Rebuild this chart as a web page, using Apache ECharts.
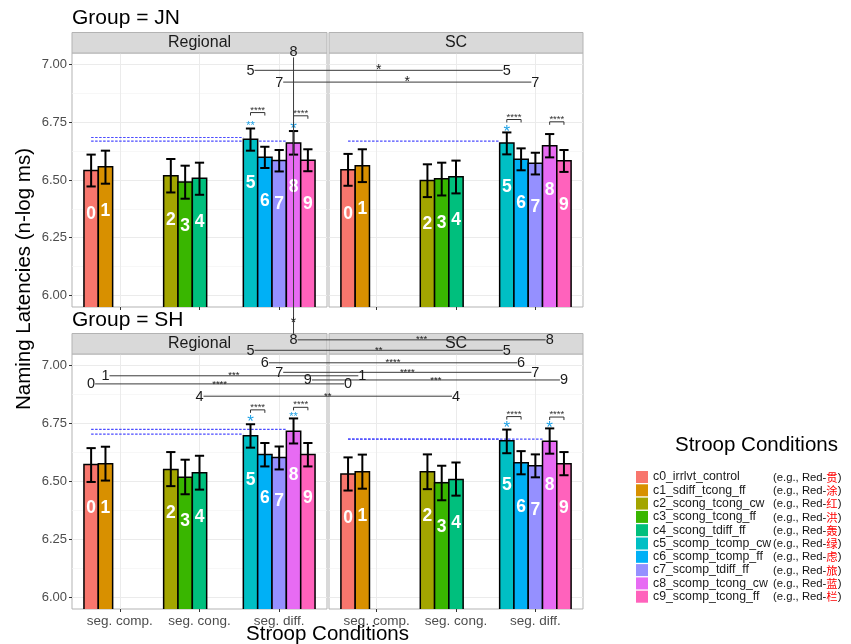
<!DOCTYPE html>
<html><head><meta charset="utf-8">
<script src="https://cdn.jsdelivr.net/npm/echarts@6/dist/echarts.min.js"></script>
<style>html,body{margin:0;padding:0;background:#fff}#c{width:851px;height:644px}</style>
</head><body><div id="c"></div>
<script>
const FONT = '"Liberation Sans", Arial, Helvetica, sans-serif';
const groups = ['JN', 'SH'];
const panels = ['Regional', 'SC'];
const categories = ['seg. comp.', 'seg. cong.', 'seg. diff.'];
const conditions = ['c0_irrlvt_control','c1_sdiff_tcong_ff','c2_scong_tcong_cw','c3_scong_tcong_ff','c4_scong_tdiff_ff','c5_scomp_tcomp_cw','c6_scomp_tcomp_ff','c7_scomp_tdiff_ff','c8_scomp_tcong_cw','c9_scomp_tcong_ff'];
const examples = ['贯','涂','红','洪','轰','绿','虑','旅','蓝','栏'];
const colors = ['#F8766D','#D89000','#A3A500','#39B600','#00BF7D','#00BFC4','#00B0F6','#9590FF','#E76BF3','#FF62BC'];
const barCategory = [0,0,1,1,1,2,2,2,2,2];
const barSlot = [0,1,0,1,2,0,1,2,3,4];
const yTicks = [6.00, 6.25, 6.50, 6.75, 7.00];
const yMinorTicks = [6.125, 6.375, 6.625, 6.875];
const xTicks = [1, 2, 3];

// means and error-bar bounds
const meanJNRegional = [6.541, 6.557, 6.518, 6.491, 6.508, 6.677, 6.598, 6.584, 6.660, 6.585];
const lowJNRegional  = [6.472, 6.484, 6.446, 6.419, 6.436, 6.627, 6.552, 6.537, 6.610, 6.538];
const highJNRegional = [6.610, 6.627, 6.591, 6.562, 6.575, 6.723, 6.644, 6.630, 6.712, 6.633];
const meanJNSC = [6.544, 6.562, 6.498, 6.505, 6.514, 6.660, 6.590, 6.572, 6.648, 6.583];
const lowJNSC  = [6.475, 6.491, 6.426, 6.433, 6.442, 6.611, 6.542, 6.524, 6.598, 6.535];
const highJNSC = [6.613, 6.633, 6.568, 6.575, 6.584, 6.706, 6.637, 6.618, 6.699, 6.630];
const meanSHRegional = [6.573, 6.577, 6.552, 6.518, 6.538, 6.697, 6.616, 6.604, 6.717, 6.616];
const lowSHRegional  = [6.498, 6.504, 6.480, 6.445, 6.465, 6.646, 6.565, 6.552, 6.664, 6.565];
const highSHRegional = [6.644, 6.650, 6.627, 6.594, 6.611, 6.747, 6.666, 6.651, 6.772, 6.666];
const meanSHSC = [6.532, 6.542, 6.542, 6.495, 6.509, 6.676, 6.581, 6.568, 6.674, 6.577];
const lowSHSC  = [6.461, 6.469, 6.467, 6.419, 6.439, 6.622, 6.531, 6.518, 6.620, 6.527];
const highSHSC = [6.604, 6.616, 6.617, 6.568, 6.582, 6.724, 6.631, 6.617, 6.729, 6.627];

// blue stars above bars: [bar, y, label]
const starsJNRegional = [[5, 6.746, '**'], [8, 6.739, '*']];
const starsJNSC = [[5, 6.727, '*']];
const starsSHRegional = [[5, 6.775, '*'], [8, 6.790, '**']];
const starsSHSC = [[5, 6.749, '*'], [8, 6.749, '*']];
// within-panel brackets: [barA, barB, y, label]
const bracketsJNRegional = [[5, 6, 6.792, '****'], [8, 9, 6.778, '****']];
const bracketsJNSC = [[5, 6, 6.762, '****'], [8, 9, 6.752, '****']];
const bracketsSHRegional = [[5, 6, 6.809, '****'], [8, 9, 6.820, '****']];
const bracketsSHSC = [[5, 6, 6.780, '****'], [8, 9, 6.778, '****']];
// dashed reference lines: [fromBar, toBar, y]
const dashedJNRegional = [[0, 5, 6.684], [0, 8, 6.668]];
const dashedJNSC = [[0, 5, 6.668]];
const dashedSHRegional = [[0, 8, 6.725], [0, 5, 6.704]];
const dashedSHSC = [[0, 8, 6.683], [0, 5, 6.683]];
// Regional vs SC comparisons: [bar, y, label]
const crossJN = [[5, 6.975, '*'], [7, 6.924, '*']];
const crossSH = [[8, 7.111, '***'], [5, 7.066, '**'], [6, 7.012, '****'], [7, 6.971, '****'], [1, 6.956, '***'], [9, 6.938, '***'], [0, 6.921, '****'], [4, 6.868, '**']];
// JN vs SH comparison (Regional): [bar, yJN, ySH, yStar(SH scale), label]
const crossGroup = [[8, 7.057, 7.111, 7.202, '*']];

const Y_MIN = 5.95, Y_MAX = 7.05, X_MIN = 0.4, X_MAX = 3.6;
const BAR_W = 0.18, CAP_HALF = 0.058, LABEL_DROP = 0.19;
const xOf = i => barCategory[i] + 1 + (barSlot[i] - 2) * BAR_W;

const layout = [
  {left: 72, top: 53, width: 255, height: 254},
  {left: 329, top: 53, width: 254, height: 254},
  {left: 72, top: 354, width: 255, height: 255},
  {left: 329, top: 354, width: 254, height: 255}
];
const panelSpecs = [
  {g: 0, p: 0, mean: meanJNRegional, lo: lowJNRegional, hi: highJNRegional, stars: starsJNRegional, brackets: bracketsJNRegional, dashed: dashedJNRegional},
  {g: 0, p: 1, mean: meanJNSC, lo: lowJNSC, hi: highJNSC, stars: starsJNSC, brackets: bracketsJNSC, dashed: dashedJNSC},
  {g: 1, p: 0, mean: meanSHRegional, lo: lowSHRegional, hi: highSHRegional, stars: starsSHRegional, brackets: bracketsSHRegional, dashed: dashedSHRegional},
  {g: 1, p: 1, mean: meanSHSC, lo: lowSHSC, hi: highSHSC, stars: starsSHSC, brackets: bracketsSHSC, dashed: dashedSHSC}
];

const chart = echarts.init(document.getElementById('c'), null, {renderer: 'canvas'});
const grids = [], xAxes = [], yAxes = [], yMinorAxes = [], series = [];

panelSpecs.forEach((P, k) => {
  const L = layout[k];
  const isLeft = P.p === 0, isBottom = P.g === 1;
  grids.push({left: L.left, top: L.top, width: L.width, height: L.height, show: true, borderColor: '#B3B3B3', borderWidth: 1, backgroundColor: '#fff'});
  xAxes.push({gridIndex: k, type: 'value', min: X_MIN, max: X_MAX,
    axisLine: {show: false},
    axisTick: {show: true, length: 3, customValues: xTicks, lineStyle: {color: '#333'}},
    axisLabel: {show: isBottom, customValues: xTicks, formatter: v => categories[Math.round(v) - 1], fontFamily: FONT, fontSize: 13.5, color: '#4D4D4D', margin: 5},
    splitLine: {show: true, customValues: xTicks, lineStyle: {color: '#EBEBEB', width: 1}}
  });
  yAxes.push({gridIndex: k, type: 'value', min: Y_MIN, max: Y_MAX, position: 'left',
    axisLine: {show: false},
    axisTick: {show: isLeft, length: 3, customValues: yTicks, lineStyle: {color: '#333'}},
    axisLabel: {show: isLeft, customValues: yTicks, formatter: v => v.toFixed(2), fontFamily: FONT, fontSize: 13, color: '#4D4D4D', margin: 5},
    splitLine: {show: true, customValues: yTicks, lineStyle: {color: '#EBEBEB', width: 1}}
  });
  yMinorAxes.push({gridIndex: k, type: 'value', min: Y_MIN, max: Y_MAX, position: 'left',
    axisLine: {show: false},
    axisTick: {show: false, customValues: yMinorTicks},
    axisLabel: {show: false, customValues: yMinorTicks},
    splitLine: {show: true, customValues: yMinorTicks, lineStyle: {color: '#F4F4F4', width: 0.7}}
  });

  // dashed reference lines
  series.push({type: 'custom', xAxisIndex: k, yAxisIndex: k, z: 2, silent: true, encode: {x: [0, 1], y: 2},
    data: P.dashed.map(d => [xOf(d[0]), xOf(d[1]) - BAR_W / 2, d[2]]),
    renderItem: (params, api) => {
      const a = api.coord([api.value(0), api.value(2)]), b = api.coord([api.value(1), api.value(2)]);
      return {type: 'line', shape: {x1: a[0], y1: a[1], x2: b[0], y2: b[1]}, style: {stroke: '#4a4aff', lineWidth: 1.2, lineDash: [2.5, 1.5]}};
    }
  });
  // bars + error bars + labels
  series.push({type: 'custom', xAxisIndex: k, yAxisIndex: k, z: 3, silent: true, clip: true, encode: {x: 0, y: 1},
    data: P.mean.map((m, i) => [xOf(i), m, P.lo[i], P.hi[i]]),
    renderItem: (params, api) => {
      const i = params.dataIndex;
      const x = api.value(0), m = api.value(1), lo = api.value(2), hi = api.value(3);
      const tl = api.coord([x - BAR_W / 2, m]);
      const br = api.coord([x + BAR_W / 2, Y_MIN - 0.05]);
      const eT = api.coord([x, hi]), eB = api.coord([x, lo]);
      const ch = api.size([CAP_HALF, 0])[0];
      const lab = api.coord([x, m - LABEL_DROP]);
      return {type: 'group', children: [
        {type: 'rect', shape: {x: tl[0], y: tl[1], width: br[0] - tl[0], height: br[1] - tl[1]}, style: {fill: colors[i], stroke: '#000', lineWidth: 1.5}},
        {type: 'line', shape: {x1: eT[0], y1: eT[1], x2: eB[0], y2: eB[1]}, style: {stroke: '#000', lineWidth: 2}},
        {type: 'line', shape: {x1: eT[0] - ch, y1: eT[1], x2: eT[0] + ch, y2: eT[1]}, style: {stroke: '#000', lineWidth: 2}},
        {type: 'line', shape: {x1: eB[0] - ch, y1: eB[1], x2: eB[0] + ch, y2: eB[1]}, style: {stroke: '#000', lineWidth: 2}},
        {type: 'text', x: lab[0], y: lab[1], style: {text: String(i), fill: '#fff', fontSize: 17.5, fontWeight: 'bold', fontFamily: FONT, align: 'center', verticalAlign: 'middle'}}
      ]};
    }
  });
  // brackets
  series.push({type: 'custom', xAxisIndex: k, yAxisIndex: k, z: 4, silent: true, encode: {x: [0, 1], y: 2},
    data: P.brackets.map(d => [xOf(d[0]), xOf(d[1]), d[2]]),
    renderItem: (params, api) => {
      const a = api.coord([api.value(0), api.value(2)]), b = api.coord([api.value(1), api.value(2)]);
      const t = P.brackets[params.dataIndex][3];
      return {type: 'group', children: [
        {type: 'polyline', shape: {points: [[a[0], a[1] + 3], [a[0], a[1]], [b[0], b[1]], [b[0], b[1] + 3]]}, style: {stroke: '#333', lineWidth: 1, fill: null}},
        {type: 'text', x: (a[0] + b[0]) / 2, y: a[1] - 2.5, style: {text: t, fill: '#333', fontSize: 9.5, fontFamily: FONT, align: 'center', verticalAlign: 'middle'}}
      ]};
    }
  });
  // blue stars
  series.push({type: 'custom', xAxisIndex: k, yAxisIndex: k, z: 4, silent: true, encode: {x: 0, y: 1},
    data: P.stars.map(d => [xOf(d[0]), d[1]]),
    renderItem: (params, api) => {
      const p = api.coord([api.value(0), api.value(1)]);
      const t = P.stars[params.dataIndex][2];
      const fs = t.length === 1 ? 17 : 11;
      return {type: 'text', x: p[0], y: p[1] + 0.28 * fs, style: {text: t, fill: '#1FA2E6', fontSize: fs, fontFamily: FONT, align: 'center', verticalAlign: 'middle'}};
    }
  });
});

// legend-only series
conditions.forEach((name, i) => {
  series.push({type: 'custom', name: name, xAxisIndex: 0, yAxisIndex: 0, data: [], itemStyle: {color: colors[i]}, renderItem: () => null});
});

chart.setOption({
  animation: false,
  grid: grids,
  xAxis: xAxes,
  yAxis: yAxes.concat(yMinorAxes),
  series: series,
  title: [{text: 'Stroop Conditions', left: 670, top: 430, textStyle: {fontFamily: FONT, fontSize: 20.5, fontWeight: 'normal', color: '#000'}}],
  legend: {
    orient: 'vertical', left: 631, top: 466, itemWidth: 12, itemHeight: 12, itemGap: 1.3, icon: 'rect',
    selectedMode: false, data: conditions,
    formatter: name => { const i = conditions.indexOf(name); return '{n|' + name + '}{e|(e.g., Red-}{r|' + examples[i] + '}{e|)}'; },
    textStyle: {fontFamily: FONT, fontSize: 12.3, color: '#1a1a1a', lineHeight: 12,
      rich: {
        n: {width: 120, fontSize: 12.3, fontFamily: FONT, color: '#1a1a1a', lineHeight: 12, verticalAlign: 'bottom'},
        e: {fontSize: 11.3, fontFamily: FONT, color: '#111', lineHeight: 12, verticalAlign: 'bottom'},
        r: {fontSize: 11.3, fontFamily: '"Noto Sans CJK SC", sans-serif', color: '#FF0000', lineHeight: 12, verticalAlign: 'bottom'}
      }}
  }
});

// ---- overlay graphics (strips, titles, cross-panel comparisons) ----
const G = [];
layout.forEach((L, k) => {
  G.push({type: 'rect', z: 50, shape: {x: L.left, y: L.top - 20.5, width: L.width, height: 20.5}, style: {fill: '#D9D9D9', stroke: '#B3B3B3', lineWidth: 1}});
  G.push({type: 'text', z: 51, x: L.left + L.width / 2, y: L.top - 10, style: {text: panels[k % 2], fill: '#1A1A1A', fontSize: 16, fontFamily: FONT, align: 'center', verticalAlign: 'middle'}});
});
G.push({type: 'text', z: 51, x: 72, y: 18, style: {text: 'Group = ' + groups[0], fill: '#000', fontSize: 21, fontFamily: FONT, align: 'left', verticalAlign: 'middle'}});
G.push({type: 'text', z: 51, x: 72, y: 320, style: {text: 'Group = ' + groups[1], fill: '#000', fontSize: 21, fontFamily: FONT, align: 'left', verticalAlign: 'middle'}});
G.push({type: 'text', z: 51, x: 24, y: 279, rotation: Math.PI / 2, style: {text: 'Naming Latencies (n-log ms)', fill: '#000', fontSize: 20.5, fontFamily: FONT, align: 'center', verticalAlign: 'middle'}});
G.push({type: 'text', z: 51, x: 327.5, y: 624, style: {text: 'Stroop Conditions', fill: '#000', fontSize: 20.5, fontFamily: FONT, align: 'center', verticalAlign: 'top'}});

const px = (k, x, y) => chart.convertToPixel({xAxisIndex: k, yAxisIndex: k}, [x, y]);
const lineStyle = {stroke: '#3a3a3a', lineWidth: 1};
const sigSize = t => t.length === 1 ? 14 : 9.5;
function addCross(list, g) {
  list.forEach(([bar, y, sig]) => {
    const a = px(2 * g, xOf(bar), y), b = px(2 * g + 1, xOf(bar), y);
    G.push({type: 'line', z: 60, shape: {x1: a[0] + 4, y1: a[1], x2: b[0] - 4, y2: b[1]}, style: lineStyle});
    [a, b].forEach(p => G.push({type: 'text', z: 61, x: p[0], y: p[1] + 0.5, style: {text: String(bar), fill: '#1a1a1a', fontSize: 14.5, fontFamily: FONT, align: 'center', verticalAlign: 'middle'}}));
    G.push({type: 'text', z: 61, x: (a[0] + b[0]) / 2, y: a[1], style: {text: sig, fill: '#1a1a1a', fontSize: sigSize(sig), fontFamily: FONT, align: 'center', verticalAlign: 'middle'}});
  });
}
addCross(crossJN, 0);
addCross(crossSH, 1);
crossGroup.forEach(([bar, yA, yB, yS, sig]) => {
  const a = px(0, xOf(bar), yA), b = px(2, xOf(bar), yB), s = px(2, xOf(bar), yS);
  G.push({type: 'line', z: 60, shape: {x1: a[0], y1: a[1] + 6, x2: b[0], y2: b[1] - 6}, style: lineStyle});
  G.push({type: 'text', z: 61, x: a[0], y: a[1] + 0.5, style: {text: String(bar), fill: '#1a1a1a', fontSize: 14.5, fontFamily: FONT, align: 'center', verticalAlign: 'middle'}});
  G.push({type: 'text', z: 61, x: s[0], y: s[1] + 0.28 * sigSize(sig), style: {text: sig, fill: '#1a1a1a', fontSize: sigSize(sig), fontFamily: FONT, align: 'center', verticalAlign: 'middle'}});
});
chart.setOption({graphic: G});
</script></body></html>
